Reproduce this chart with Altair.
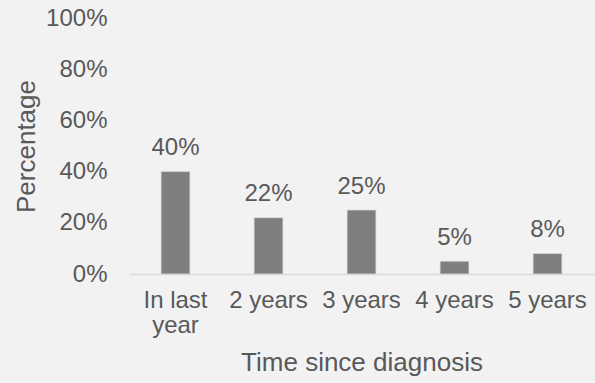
import altair as alt
import pandas as pd

categories = ["In last year", "2 years", "3 years", "4 years", "5 years"]
values = [0.40, 0.22, 0.25, 0.05, 0.08]
labels = ["40%", "22%", "25%", "5%", "8%"]

df = pd.DataFrame({"cat": categories, "val": values, "lab": labels})

FONT = "Liberation Sans"
TXT = "#595959"

x = alt.X(
    "cat:N",
    sort=categories,
    scale=alt.Scale(paddingInner=0.69, paddingOuter=0.345),
    axis=alt.Axis(
        title="Time since diagnosis",
        labelAngle=0,
        labelExpr="datum.value == 'In last year' ? ['In last', 'year'] : datum.label",
        labelLineHeight=25,
        labelFontSize=24,
        labelPadding=14,
        titleFontSize=26,
        titlePadding=12,
        ticks=False,
        domainColor="#d9d9d9",
        domainWidth=1.5,
        grid=False,
    ),
)
y = alt.Y(
    "val:Q",
    scale=alt.Scale(domain=[0, 1]),
    axis=alt.Axis(
        title="Percentage",
        format=".0%",
        values=[0, 0.2, 0.4, 0.6, 0.8, 1.0],
        labelFontSize=24,
        labelPadding=22,
        titleFontSize=26,
        titlePadding=6,
        ticks=False,
        domain=False,
        grid=False,
    ),
)

bars = alt.Chart(df).mark_bar(color="#7f7f7f", stroke="#d9d9d9", strokeWidth=0.75).encode(x=x, y=y)
text = alt.Chart(df).mark_text(
    baseline="alphabetic", dy=-16.5, fontSize=24, font=FONT, color=TXT
).encode(x=alt.X("cat:N", sort=categories), y="val:Q", text="lab:N")

chart = (
    alt.layer(bars, text)
    .properties(
        width=465,
        height=256,
        autosize=alt.AutoSizeParams(type="none"),
        padding={"left": 129, "top": 18, "right": 1, "bottom": 109},
        background="#f2f2f2",
    )
    .configure_view(stroke=None)
    .configure_axis(
        labelFont=FONT, titleFont=FONT, labelColor=TXT, titleColor=TXT,
        titleFontWeight="normal",
    )
)

chart.save("out.html", embed_options={"renderer": "svg", "actions": False})
